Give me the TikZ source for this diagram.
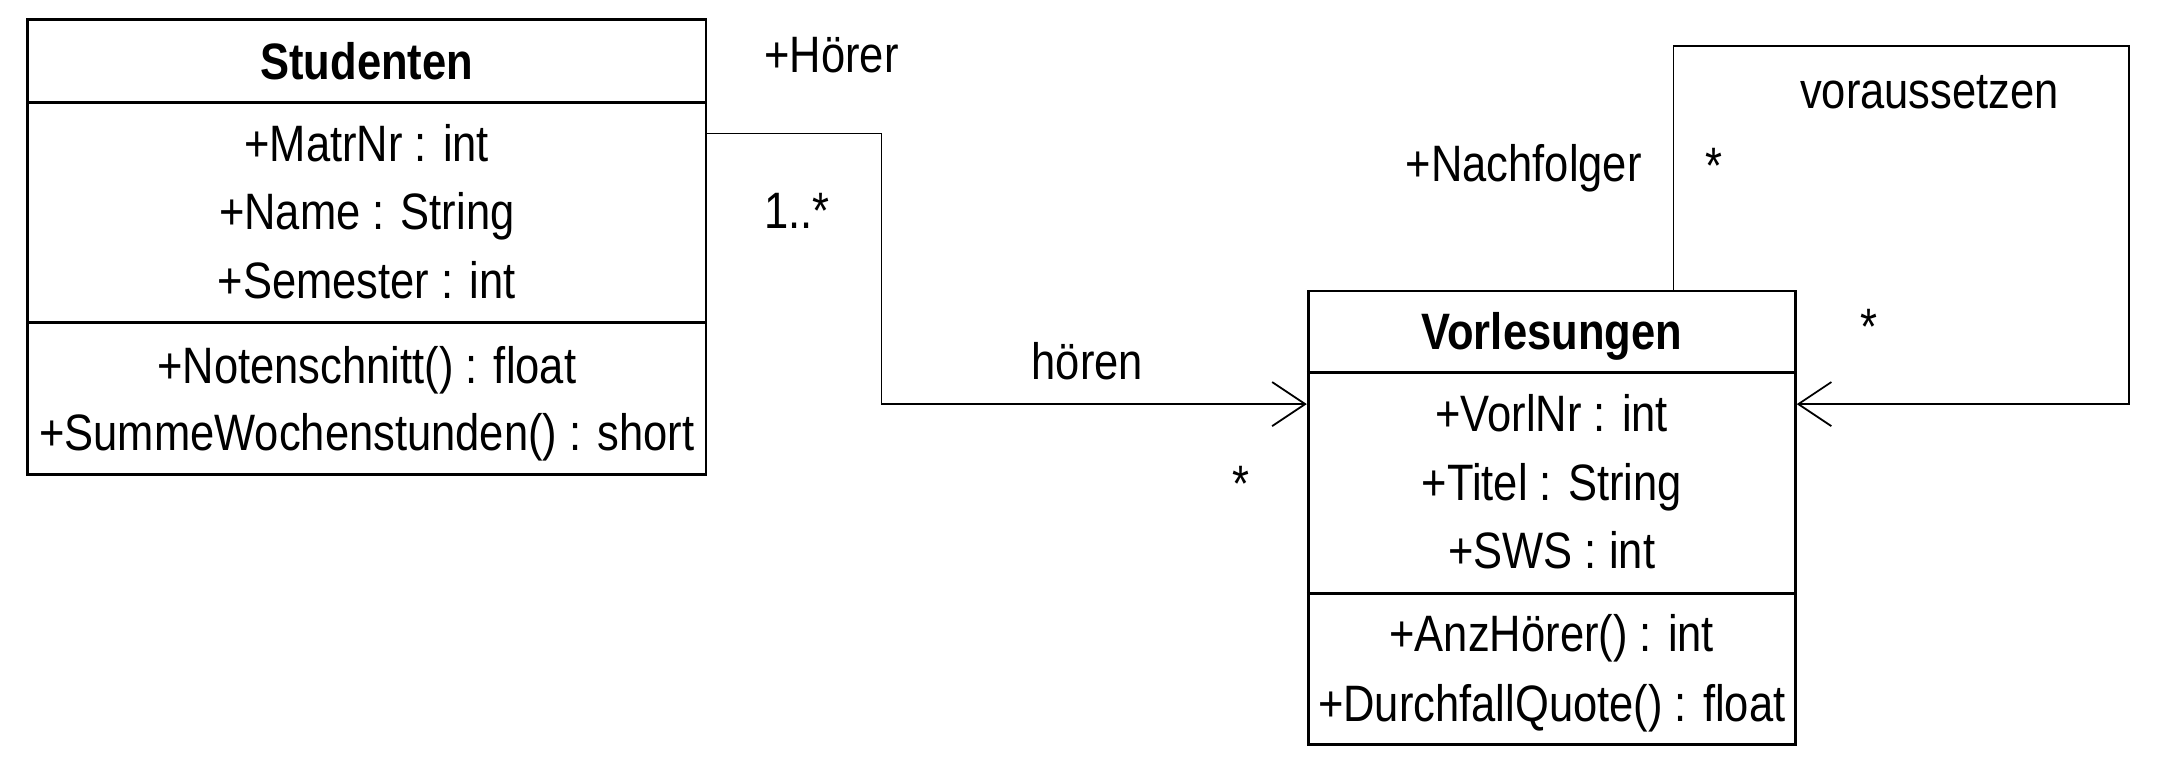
\documentclass[tikz,border=0pt]{standalone}
\usepackage{fontspec}
\setmainfont{Liberation Sans}[FakeStretch=0.85]
\usetikzlibrary{arrows.meta}
\begin{document}
\begin{tikzpicture}[x=0.5pt,y=-0.5pt,
  every node/.style={font=\fontsize{18.6}{22}\selectfont, inner sep=0pt},
  classbox/.style={draw, line width=1pt, rectangle, inner sep=0pt},
  sepline/.style={line width=1pt},
  txt/.style={anchor=base},
  ltxt/.style={anchor=base west},
  assoc/.style={line width=0.65pt, line join=miter},
  opentip/.style={-{Straight Barb[length=12pt,width=16pt]}}]
\useasboundingbox (0,0) rectangle (1568,566.75);

% Studenten
\node[classbox, minimum width=246.5pt, minimum height=165.5pt] (stud) at (266.5,179.5) {};
\coordinate (ss1) at (0,74.5);
\coordinate (ss2) at (0,234.5);
\draw[sepline] (stud.west |- ss1) -- (stud.east |- ss1);
\draw[sepline] (stud.west |- ss2) -- (stud.east |- ss2);
\node[txt] (st) at (266.5,58) {\bfseries Studenten};
\node[txt] (sa1) at (266.5,117.5) {+MatrNr : int};
\node[txt] (sa2) at (266.5,167) {+Name : String};
\node[txt] (sa3) at (266.5,217) {+Semester : int};
\node[txt] (sm1) at (266.5,278.5) {+Notenschnitt() : float};
\node[txt] (sm2) at (266.5,327) {+SummeWochenstunden() : short};

% Vorlesungen
\node[classbox, minimum width=177pt, minimum height=164.75pt] (vorl) at (1127.5,376.25) {};
\coordinate (vs1) at (0,270.8);
\coordinate (vs2) at (0,431);
\draw[sepline] (vorl.west |- vs1) -- (vorl.east |- vs1);
\draw[sepline] (vorl.west |- vs2) -- (vorl.east |- vs2);
\node[txt] (vt) at (1127.5,254) {\bfseries Vorlesungen};
\node[txt] (va1) at (1127.5,313.7) {+VorlNr : int};
\node[txt] (va2) at (1127.5,363.8) {+Titel : String};
\node[txt] (va3) at (1127.5,413) {+SWS : int};
\node[txt] (vm1) at (1127.5,473.5) {+AnzHörer() : int};
\node[txt] (vm2) at (1127.5,524.4) {+DurchfallQuote() : float};

% hoeren association
\coordinate (h1) at (640.5,97);
\coordinate (h2) at (640.5,293.6);
\draw[assoc,opentip] (stud.east |- h1) -- (h1) -- (h2) -- (vorl.west |- h2);
\node[ltxt] (hoerer) at (555,53) {+Hörer};
\node[ltxt] (m1) at (555,166) {1..*};
\node[txt] (hoeren) at (790,276) {hören};
\node[txt] (m2) at (902,364.5) {*};

% voraussetzen self association
\coordinate (l1) at (1216,33.4);
\coordinate (l2) at (1547,33.4);
\coordinate (l3) at (1547,293.6);
\draw[assoc,opentip] (vorl.north -| l1) -- (l1) -- (l2) -- (l3) -- (vorl.east |- l3);
\node[ltxt] (nachf) at (1021,132) {+Nachfolger};
\node[txt] (m3) at (1245.6,133) {*};
\node[txt] (voraus) at (1402,78.7) {voraussetzen};
\node[txt] (m4) at (1358,250.6) {*};
\end{tikzpicture}
\end{document}
